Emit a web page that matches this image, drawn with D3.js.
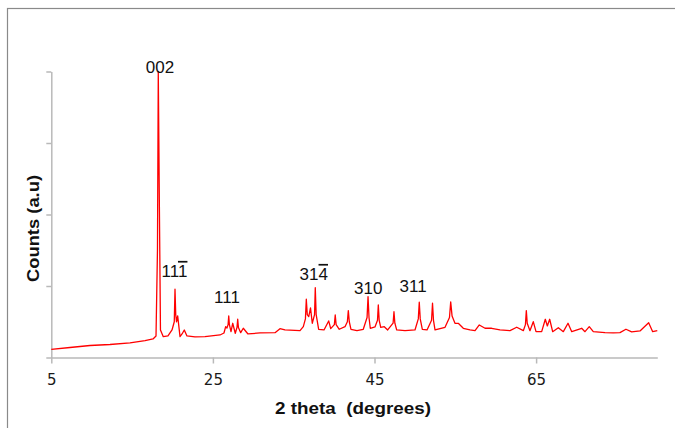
<!DOCTYPE html>
<html><head><meta charset="utf-8">
<script src="https://cdn.jsdelivr.net/npm/d3@7"></script>
<style>body{margin:0;background:#fff}svg{display:block}</style>
</head><body>
<svg id="chart" width="675" height="428"></svg>
<script>
// ---- data ----
const twoTheta = [5.0,7.31,9.79,12.26,14.74,16.60,17.59,17.96,18.14,18.24,18.37,18.51,18.86,19.44,19.94,20.22,20.31,20.40,20.50,20.64,20.93,21.18,21.46,21.79,22.78,24.02,25.88,26.37,26.58,26.74,26.88,26.96,27.04,27.24,27.45,27.77,27.98,28.07,28.16,28.44,28.76,29.34,30.83,32.69,33.30,33.92,35.78,36.19,36.45,36.56,36.68,36.86,37.08,37.30,37.58,37.67,37.78,38.09,38.75,39.33,39.58,40.03,40.14,40.25,40.64,41.35,41.64,41.76,41.88,42.09,42.83,43.61,44.08,44.20,44.32,44.48,45.06,45.37,45.47,45.58,45.77,46.21,46.63,47.30,47.41,47.52,47.75,48.78,50.01,50.42,50.54,50.66,50.92,51.50,52.06,52.18,52.30,52.49,53.73,54.28,54.43,54.60,54.96,55.40,55.99,56.82,57.44,57.97,58.68,59.50,60.53,61.77,62.60,63.42,63.68,63.79,63.90,64.24,64.65,64.99,65.69,66.14,66.39,66.68,67.05,67.75,68.37,68.95,69.41,70.64,71.05,71.58,72.08,73.53,74.55,75.38,76.12,76.83,77.86,78.93,79.43,80.0];
const counts = [287,350,420,455,508,588,648,753,3763,10000,5513,963,728,753,963,1250,2387,1500,1243,1453,728,823,963,753,718,728,788,858,1078,1033,1150,1453,1150,903,1197,847,1050,1337,1050,868,1022,823,858,868,1008,963,938,1078,1350,2037,1500,1428,1733,1197,1500,2440,1500,987,963,1278,1008,1150,1488,1150,987,1078,1250,1638,1250,987,938,987,1400,2128,1400,1022,1068,1300,1838,1300,1057,1078,963,1200,1600,1200,963,938,963,1350,1932,1350,987,963,1300,1897,1300,963,1057,1400,1943,1450,1197,1190,1022,963,938,1138,1022,1022,963,938,1057,938,1150,1638,1200,938,1253,903,903,1337,1103,1337,903,1043,903,1197,903,1022,903,1078,903,868,858,868,987,893,928,1218,903,938];
const xTicks = [5, 25, 45, 65];
const yTicks = [0, 2500, 5000, 7500, 10000];
const xDomain = [5, 80];
const yDomain = [0, 10000];
// peak annotations: plain part, overlined part, anchor (2theta, counts)
const labelPlain = ["002", "11", "111", "31", "310", "311"];
const labelBar   = ["",    "1",  "",    "4",  "",    ""];
const labelTheta = [18.45, 20.25, 26.75, 37.49, 44.23, 49.77];
const labelCount = [9947, 2818, 1897, 2713, 2212, 2282];
const xTitle = "2 theta  (degrees)";
const yTitle = "Counts (a.u)";

// ---- drawing ----
const svg = d3.select("#chart");
const axisColor = "#b9b9b9";

svg.append("rect").attr("x", 7.5).attr("y", 8.5).attr("width", 700).attr("height", 500)
  .attr("fill", "none").attr("stroke", "#8a8a8a").attr("stroke-width", 1.2);

const x = d3.scaleLinear().domain(xDomain).range([51.3, 657.3]);
const y = d3.scaleLinear().domain(yDomain).range([357.5, 71.5]);

const gx = svg.append("g").attr("transform", `translate(0,${y(0)})`)
  .call(d3.axisBottom(x).tickValues(xTicks).tickSizeInner(6).tickSizeOuter(0).tickPadding(11).tickFormat(d3.format("d")));
const gy = svg.append("g").attr("transform", `translate(${x(5)},0)`)
  .call(d3.axisLeft(y).tickValues(yTicks).tickSizeInner(5).tickSizeOuter(0).tickFormat(""));
[gx, gy].forEach(g => {
  g.select(".domain").attr("stroke", axisColor).attr("stroke-width", 1.5);
  g.selectAll(".tick line").attr("stroke", axisColor).attr("stroke-width", 1.5);
});
gx.selectAll(".tick text").attr("fill", "#1a1a1a").style("font-family", "'DejaVu Sans', sans-serif").style("font-size", "15px");

const pts = twoTheta.map((t, i) => [t, counts[i]]);
svg.append("path").datum(pts)
  .attr("fill", "none").attr("stroke", "#ff0000").attr("stroke-width", 1.3).attr("stroke-linejoin", "round")
  .attr("d", d3.line().x(d => x(d[0])).y(d => y(d[1])));

const lab = svg.append("g").style("font-family", "'Liberation Sans', Arial, sans-serif").style("font-size", "17px").attr("fill", "#111");
labelPlain.forEach((p, i) => {
  const t = lab.append("text").attr("x", x(labelTheta[i])).attr("y", y(labelCount[i])).attr("text-anchor", "middle");
  t.append("tspan").text(p);
  if (labelBar[i]) t.append("tspan").style("text-decoration", "overline").text(labelBar[i]);
});

svg.append("text").attr("x", 275).attr("y", 414)
  .attr("textLength", 156).attr("lengthAdjust", "spacingAndGlyphs").style("white-space", "pre")
  .style("font-family", "'Liberation Sans', Arial, sans-serif").style("font-weight", "bold").style("font-size", "17px")
  .attr("fill", "#111").text(xTitle);
svg.append("text").attr("transform", "translate(38.5,282) rotate(-90)")
  .attr("textLength", 107).attr("lengthAdjust", "spacingAndGlyphs")
  .style("font-family", "'Liberation Sans', Arial, sans-serif").style("font-weight", "bold").style("font-size", "17px")
  .attr("fill", "#111").text(yTitle);
</script>
</body></html>
